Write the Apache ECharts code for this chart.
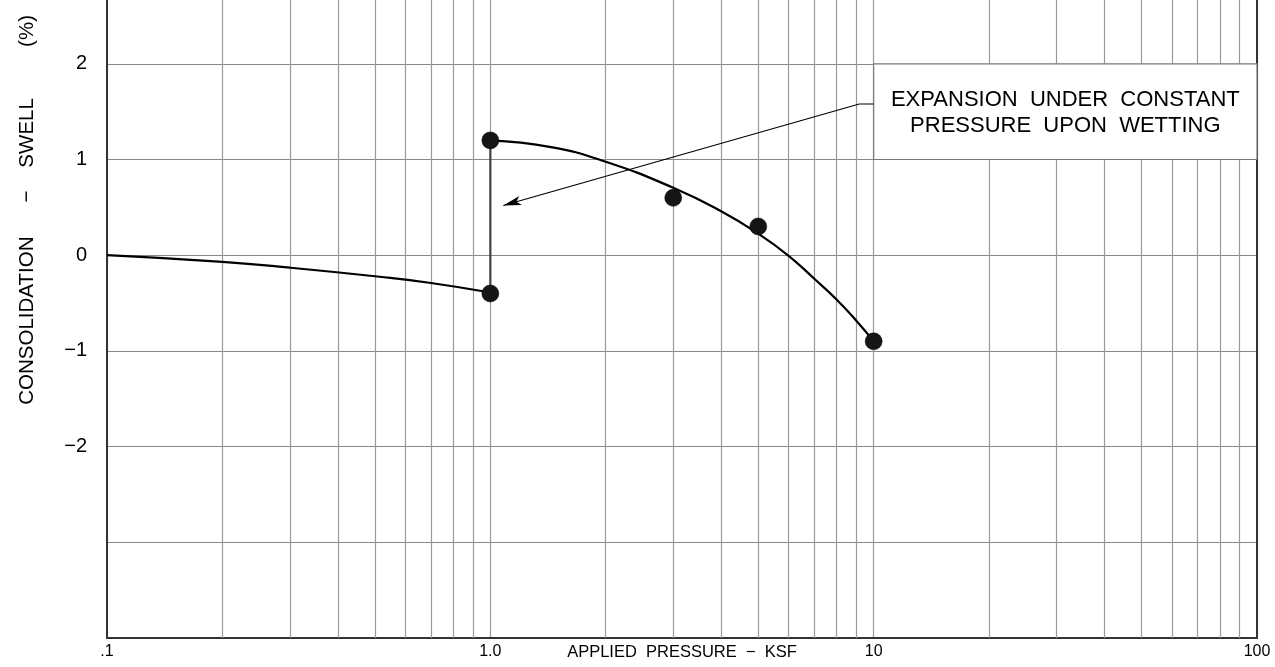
<!DOCTYPE html>
<html>
<head>
<meta charset="utf-8">
<script src="https://cdn.jsdelivr.net/npm/echarts@6/dist/echarts.min.js"></script>
<style>
html,body{margin:0;padding:0;background:#fff;}
#chart{width:1275px;height:667px;}
</style>
</head>
<body>
<div id="chart"></div>
<script>
// ---- data ----
var xTickValues = [0.1, 1, 10, 100];
var xTickLabels = ['.1', '1.0', '10', '100'];
var xMinorTicks = [0.2,0.3,0.4,0.5,0.6,0.7,0.8,0.9, 2,3,4,5,6,7,8,9, 20,30,40,50,60,70,80,90];
var yTickValues = [-2, -1, 0, 1, 2];
var testPoints = [[1, 1.2], [1, -0.4], [3, 0.6], [5, 0.3], [10, -0.9]];
var loadingCurve = [[0.1, 0], [0.2, -0.07], [0.3, -0.13], [0.5, -0.22], [0.7, -0.29], [1, -0.39]];
var wettingLine = [[1, -0.4], [1, 1.2]];
var consolidationCurve = [[1, 1.2], [1.44, 1.129], [2, 0.977], [3, 0.705], [4, 0.46], [5, 0.225], [6, -0.006], [7, -0.246], [8, -0.462], [9, -0.682], [10, -0.9]];
var noteText = 'EXPANSION  UNDER  CONSTANT\nPRESSURE  UPON  WETTING';
var noteBox = [[10, 1], [100, 2]];
var noteLeader = [[1.081, 0.52], [9.17, 1.58], [10, 1.58]];
var xName = 'APPLIED  PRESSURE  \u2212  KSF';
var yName = 'CONSOLIDATION      \u2212    SWELL         (%)';

var FONT = 'Liberation Sans, Arial, sans-serif';
var chart = echarts.init(document.getElementById('chart'));

function xLabel(v) {
  var k = Math.round(Math.log(v) / Math.LN10);
  for (var i = 0; i < xTickValues.length; i++) {
    if (Math.round(Math.log(xTickValues[i]) / Math.LN10) === k) return xTickLabels[i];
  }
  return '';
}
function yLabel(v) {
  for (var i = 0; i < yTickValues.length; i++) {
    if (Math.abs(yTickValues[i] - v) < 1e-6) return String(v).replace('-', '\u2212');
  }
  return '';
}

var option = {
  animation: false,
  backgroundColor: '#ffffff',
  grid: { left: 107, right: 18, top: 0, bottom: 29, containLabel: false, outerBoundsMode: 'none' },
  xAxis: {
    type: 'log', logBase: 10, min: 0.1, max: 100,
    name: xName, nameLocation: 'middle', nameGap: 6, nameMoveOverlap: false,
    nameTextStyle: { color: '#000', fontSize: 16.5, fontFamily: FONT, verticalAlign: 'top' },
    axisLine: { show: true, onZero: false, lineStyle: { color: '#333', width: 2 } },
    axisTick: { show: false },
    axisLabel: { color: '#000', fontSize: 16, fontFamily: FONT, margin: 6, formatter: xLabel },
    splitLine: { show: true, lineStyle: { color: '#999', width: 1.2 } }
  },
  yAxis: [{
    type: 'value', min: -4, max: 2.667, interval: 1,
    axisLine: { show: true, onZero: false, lineStyle: { color: '#333', width: 2 } },
    axisTick: { show: false },
    axisLabel: { color: '#000', fontSize: 20, fontFamily: FONT, margin: 20, formatter: yLabel, showMaxLabel: false },
    splitLine: { show: true, showMaxLine: false, showMinLine: false, lineStyle: { color: '#888', width: 1.2 } }
  }, {
    type: 'value', min: -4, max: 2.667, position: 'right',
    axisLine: { show: true, onZero: false, lineStyle: { color: '#333', width: 2 } },
    axisTick: { show: false }, axisLabel: { show: false }, splitLine: { show: false }
  }],
  graphic: [{
    type: 'text', left: 17, top: 15,
    style: { text: yName, fill: '#000', font: '20.5px ' + FONT },
    rotation: Math.PI / 2, originX: 0, originY: 0
  }],
  series: [
    {
      type: 'line', data: [], silent: true, z: 1,
      markLine: {
        silent: true, symbol: 'none', animation: false, z: 1,
        label: { show: false },
        lineStyle: { color: '#999', width: 1.2, type: 'solid' },
        data: xMinorTicks.map(function (v) { return { xAxis: v }; })
      }
    },
    {
      type: 'line', data: [], silent: true, z: 3,
      markArea: {
        silent: true, z: 3,
        itemStyle: { color: '#ffffff', borderColor: '#777', borderWidth: 1.2 },
        label: {
          show: true, position: 'inside', color: '#000', fontSize: 22, fontFamily: FONT,
          lineHeight: 26, align: 'center', verticalAlign: 'middle', offset: [0, 1]
        },
        data: [[{ coord: noteBox[0], name: noteText }, { coord: noteBox[1] }]]
      }
    },
    {
      type: 'line', data: noteLeader, z: 4, symbol: 'none', silent: true,
      lineStyle: { color: '#000', width: 1.2 }
    },
    {
      type: 'line', data: [], z: 4, silent: true,
      markLine: {
        silent: true, animation: false, z: 4,
        symbol: ['arrow', 'none'], symbolSize: [7, 18],
        label: { show: false },
        lineStyle: { color: '#000', width: 0.01, type: 'solid', opacity: 1 },
        itemStyle: { color: '#000' },
        data: [[{ coord: noteLeader[0] }, { coord: noteLeader[1] }]]
      }
    },
    {
      type: 'line', data: loadingCurve, smooth: 0.5, symbol: 'none', z: 5,
      lineStyle: { color: '#000', width: 2.2 }
    },
    {
      type: 'line', data: wettingLine, symbol: 'none', z: 5,
      lineStyle: { color: '#444', width: 2.2 }
    },
    {
      type: 'line', data: consolidationCurve, smooth: 0.5, symbol: 'none', z: 5,
      lineStyle: { color: '#000', width: 2.2 }
    },
    {
      type: 'scatter', data: testPoints, symbol: 'circle', symbolSize: 17, z: 6,
      itemStyle: { color: '#151515', opacity: 1, borderColor: '#000', borderWidth: 0.5 }
    }
  ]
};
chart.setOption(option);
</script>
</body>
</html>
